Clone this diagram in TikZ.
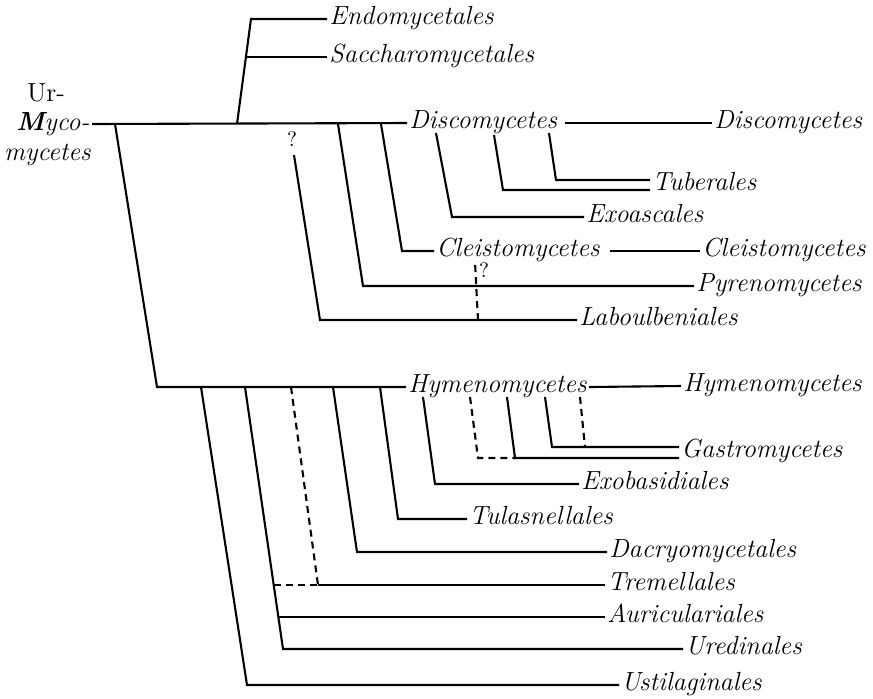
\documentclass[tikz,border=0pt]{standalone}
\usetikzlibrary{calc}
\begin{document}
\begin{tikzpicture}[x=0.5pt,y=-0.5pt,
  lab/.style={font=\fontsize{13.1}{15}\selectfont\itshape, anchor=west, inner sep=1pt, text height=1.6ex, text depth=0.3ex},
  qm/.style={font=\fontsize{10.5}{11}\selectfont, inner sep=0pt},
  br/.style={line width=1.05pt, line join=miter},
  dbr/.style={line width=1.05pt, dash pattern=on 3.5pt off 2.5pt}]
\useasboundingbox (0,0) rectangle (873,698);
% root labels
\node[font=\fontsize{13.1}{15}\selectfont, inner sep=0pt] (ur) at (46,93) {Ur-};
\node[font=\fontsize{13.1}{15}\selectfont\itshape, anchor=east, inner sep=1pt] (myco) at (92,124) {{\bfseries M}yco-};
\node[font=\fontsize{13.1}{15}\selectfont\itshape, anchor=east, inner sep=0pt] (myc) at (91,155) {mycetes};
% labels
\node[lab] (endo) at (327,19) {Endomycetales};
\node[lab] (sacch) at (327,57) {Saccharomycetales};
\node[lab] (disc) at (407,123) {Discomycetes};
\node[lab] (discR) at (712,123) {Discomycetes};
\node[lab] (tub) at (650,185) {Tuberales};
\node[lab] (exoa) at (584,217) {Exoascales};
\node[lab] (cleis) at (434,251) {Cleistomycetes};
\node[lab] (cleisR) at (700,251) {Cleistomycetes};
\node[lab] (pyr) at (694,286) {Pyrenomycetes};
\node[lab] (labo) at (577,320) {Laboulbeniales};
\node[lab] (hym) at (406,387) {Hymenomycetes};
\node[lab] (hymR) at (681,386) {Hymenomycetes};
\node[lab] (gas) at (679,452) {Gastromycetes};
\node[lab] (exob) at (579,484) {Exobasidiales};
\node[lab] (tul) at (467,519) {Tulasnellales};
\node[lab] (dac) at (607,552) {Dacryomycetales};
\node[lab] (trem) at (605,585) {Tremellales};
\node[lab] (auri) at (605,617) {Auriculariales};
\node[lab] (ured) at (683,649) {Uredinales};
\node[lab] (ust) at (619,685) {Ustilaginales};
\node[qm] (q1) at (292,139) {?};
\node[qm] (q2) at (484,270) {?};
% trunk coordinates
\coordinate (troot) at (115,124);
\coordinate (tendo) at (237,124);
\coordinate (tlab) at (294,155);
\coordinate (tpyr) at (338,124);
\coordinate (tcle) at (381,124);
\coordinate (broot) at (157,387);
\coordinate (b1) at (201,387);
\coordinate (b2) at (245,387);
\coordinate (b3) at (291,387);
\coordinate (b4) at (333,387);
\coordinate (b5) at (380,387);
% Ascomycetes
\draw[br] (myco.east) -- (disc.west);
\draw[br] (troot) -- (broot) -- (hym.west);
\draw[br] (tendo) -- (251,19) -- (endo.west);
\draw[br] (246,57) -- (sacch.west);
\draw[br] (tlab) -- (320,320) -- (labo.west);
\draw[br] (tpyr) -- (363,286) -- (pyr.west);
\draw[br] (tcle) -- (402,251) -- (cleis.west);
\draw[br] (cleis.east) ++(8,0) coordinate (ce) (ce) -- (cleisR.west);
\draw[br] (disc.east) ++(5,0) coordinate (de) (de) -- (discR.west);
\draw[br] (436,133) -- (452,217) -- (exoa.west);
\draw[br] (494,135) -- (503,190) -- ([yshift=-2.5pt]tub.west);
\draw[br] (549,133) -- (556,180) -- ([yshift=2.5pt]tub.west);
\draw[dbr] (478,320) -- (475,262);
% Basidiomycetes
\draw[br] (hym.east) -- (hymR.west);
\draw[br] (b1) -- (247,685) -- (ust.west);
\draw[br] (b2) -- (283,649) -- (ured.west);
\draw[br] (278.4,617) -- (auri.west);
\draw[dbr] (273.7,585) -- (318,585);
\draw[br] (318,585) -- (trem.west);
\draw[dbr] (b3) -- (318,585);
\draw[br] (b4) -- (357,552) -- (dac.west);
\draw[br] (b5) -- (398,519) -- (tul.west);
\draw[br] (423,397) -- (435,484) -- (exob.west);
\draw[dbr] (470,397) -- (478,458) -- (515,458);
\draw[br] (507,397) -- (515,458) -- ([yshift=-3pt]gas.west);
\draw[br] (545,397) -- (552,447) -- ([yshift=2.5pt]gas.west);
\draw[dbr] (580,397) -- (585,447);
\end{tikzpicture}
\end{document}
